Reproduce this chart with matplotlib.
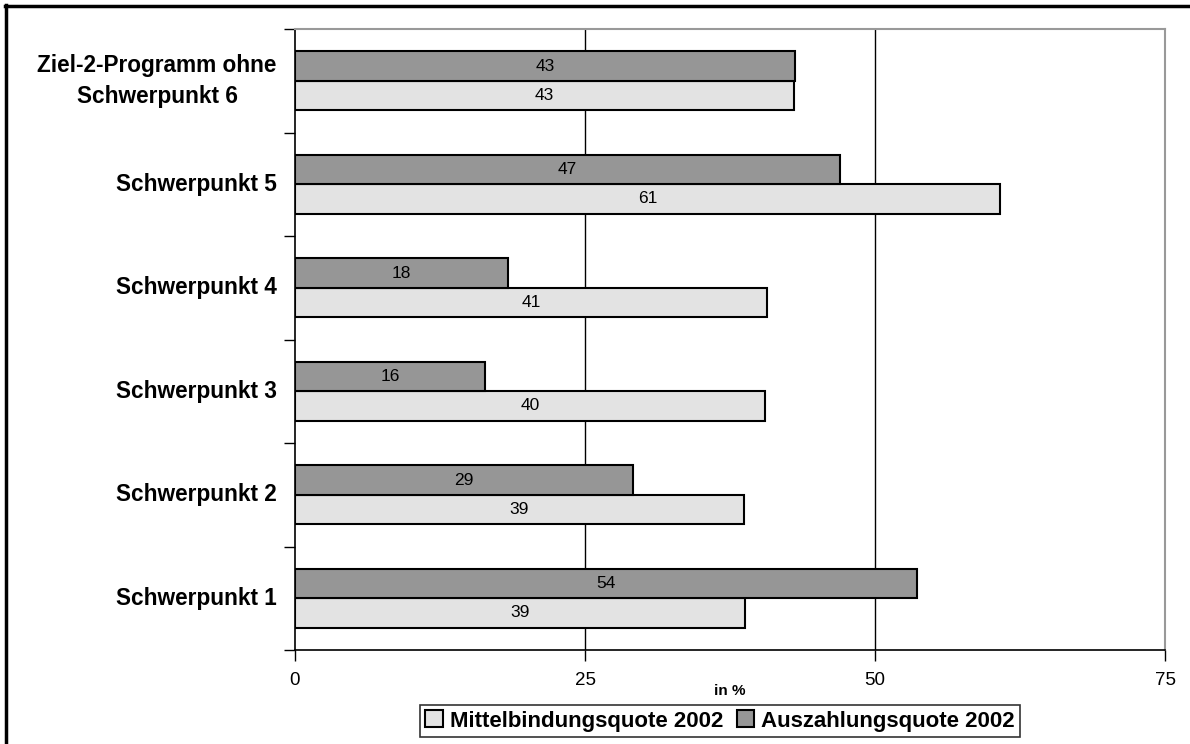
import matplotlib.pyplot as plt
import numpy as np
from matplotlib.lines import Line2D

plt.rcParams["font.family"] = ["Liberation Sans", "DejaVu Sans"]

categories = ["Schwerpunkt 1", "Schwerpunkt 2", "Schwerpunkt 3", "Schwerpunkt 4",
              "Schwerpunkt 5", "Ziel-2-Programm ohne\nSchwerpunkt 6"]
mittelbindung = [38.8, 38.7, 40.5, 40.7, 60.8, 43.0]
auszahlung = [53.6, 29.1, 16.4, 18.4, 47.0, 43.1]
series_names = ["Mittelbindungsquote 2002", "Auszahlungsquote 2002"]
xticks = [0, 25, 50, 75]

light = "#e3e3e3"
dark = "#969696"

fig = plt.figure(figsize=(11.9, 7.44), dpi=100)
ax = fig.add_axes([295 / 1190, 1 - 650 / 744, 870 / 1190, 621 / 744])

y = np.arange(len(categories))
h = 0.285
b1 = ax.barh(y - h / 2, mittelbindung, height=h, color=light, edgecolor="black",
             linewidth=1.5, label=series_names[0], zorder=3)
b2 = ax.barh(y + h / 2, auszahlung, height=h, color=dark, edgecolor="black",
             linewidth=1.5, label=series_names[1], zorder=3)

for bars, vals in ((b1, mittelbindung), (b2, auszahlung)):
    for bar, v in zip(bars, vals):
        ax.text(bar.get_width() / 2, bar.get_y() + bar.get_height() / 2,
                f"{round(v):d}", ha="center", va="center", fontsize=12.5, zorder=4)

ax.set_xlim(0, 75)
ax.set_ylim(-0.5, len(categories) - 0.5)
ax.set_xticks(xticks)
ax.set_xticklabels([str(t) for t in xticks], fontsize=13.5)
ax.tick_params(axis="x", length=8, width=1, pad=7.5, direction="out")

# category labels between the boundary ticks
ax.set_yticks(np.arange(-0.5, len(categories)), labels=[""] * (len(categories) + 1))
ax.tick_params(axis="y", length=8, width=1, direction="out")
for i, c in enumerate(categories):
    ax.text(-0.021, i, c, transform=ax.get_yaxis_transform(), ha="right", va="center",
            fontsize=16.3, fontweight="bold", multialignment="center", linespacing=1.45)

for t in (25, 50):
    ax.axvline(t, color="black", linewidth=1, zorder=1)

for s in ("top", "right"):
    ax.spines[s].set_color("#999999")
    ax.spines[s].set_linewidth(1.5)
for s in ("left", "bottom"):
    ax.spines[s].set_color("black")
    ax.spines[s].set_linewidth(1.2)

ax.set_xlabel("in %", fontsize=11, fontweight="bold", labelpad=-3)

leg = fig.legend(handles=[b1, b2], labels=series_names, loc="center",
                 bbox_to_anchor=(720 / 1190, 1 - 721 / 744), ncol=2,
                 prop={"weight": "bold", "size": 16}, frameon=True, fancybox=False,
                 handlelength=0.8, handleheight=0.8, handletextpad=0.3,
                 columnspacing=0.6, borderpad=0.25, borderaxespad=0)
leg.get_frame().set_edgecolor("black")
leg.get_frame().set_linewidth(1.2)

# outer frame (only top and left edges visible)
fig.add_artist(Line2D([5 / 1190, 1], [1 - 6 / 744, 1 - 6 / 744], color="black", linewidth=2.5))
fig.add_artist(Line2D([6 / 1190, 6 / 1190], [0, 1 - 5 / 744], color="black", linewidth=2.5))

plt.savefig("out.png", dpi=100)
